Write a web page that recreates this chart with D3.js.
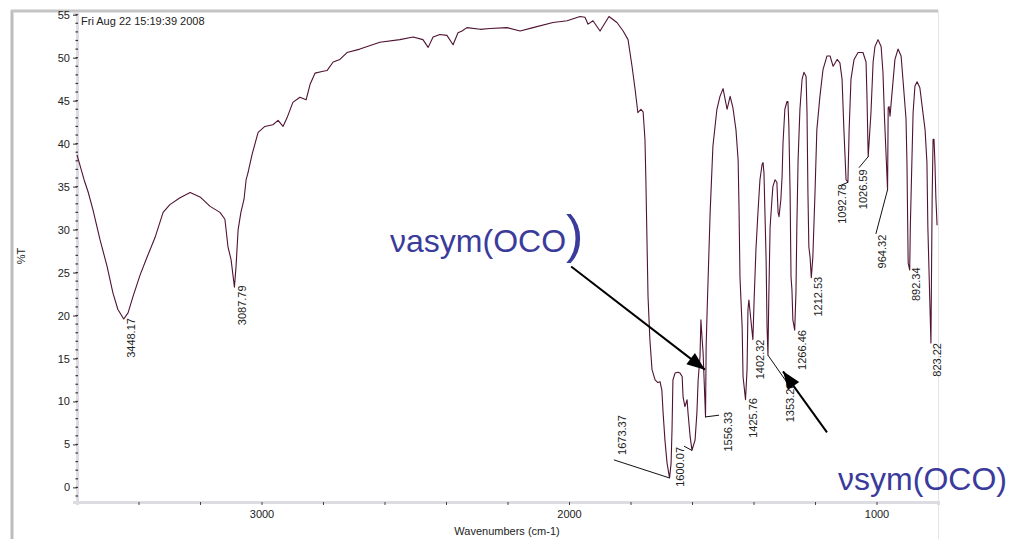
<!DOCTYPE html>
<html>
<head>
<meta charset="utf-8">
<script src="https://cdn.jsdelivr.net/npm/d3@7"></script>
<style>
  body { margin: 0; background: #fff; }
  svg text { font-family: "Liberation Sans", Arial, Helvetica, sans-serif; fill: #222; }
</style>
</head>
<body>
<div id="container"></div>
<script>
/* CONSTANTS AND GLOBALS */
const width = 1009,
  height = 539,
  margin = { top: 13, bottom: 37, left: 77, right: 71 }

/* DATA */
const wavenumbers = [3600,3577,3564,3548,3525,3502,3483,3467,3448,3434,3418,3395,3372,3346,3320,3298,3265,3232,3200,3167,3135,3119,3109,3099,3088,3083,3076,3067,3057,3050,3044,3031,3011,2989,2963,2946,2930,2917,2898,2875,2855,2842,2826,2803,2787,2767,2745,2722,2680,2615,2550,2507,2475,2458,2442,2420,2397,2377,2361,2348,2332,2289,2257,2202,2159,2117,2052,2006,1964,1948,1938,1922,1899,1870,1844,1824,1808,1795,1785,1776,1766,1759,1753,1750,1746,1743,1737,1730,1720,1711,1704,1698,1694,1688,1681,1673,1668,1665,1662,1655,1646,1639,1632,1629,1623,1616,1613,1606,1600,1597,1590,1584,1580,1574,1571,1567,1564,1556,1554,1551,1541,1532,1519,1509,1499,1486,1476,1467,1457,1450,1447,1444,1437,1434,1426,1421,1418,1415,1408,1402,1398,1392,1385,1379,1372,1369,1366,1359,1356,1353,1350,1346,1340,1337,1330,1324,1320,1317,1311,1307,1304,1298,1291,1288,1285,1281,1278,1275,1272,1266,1262,1259,1255,1249,1242,1236,1229,1226,1223,1220,1216,1212,1207,1200,1194,1184,1174,1161,1151,1141,1128,1119,1112,1106,1099,1093,1089,1083,1073,1060,1044,1034,1031,1027,1018,1011,1005,995,985,979,974,964,962,959,956,950,940,930,920,914,904,901,897,892,890,885,881,875,868,859,849,842,836,833,823,819,816,813,810,807,803]
const transmittance = [38.7,35.8,34.4,32.3,28.8,25.7,22.6,20.7,19.6,20.3,22.2,24.7,26.8,29.1,32.0,32.9,33.7,34.3,33.8,32.7,32.0,31.2,28.0,26.5,23.3,25.6,30.0,32.0,33.5,35.8,36.6,38.7,41.3,42.0,42.2,42.7,42.0,43.0,44.8,45.4,45.1,46.9,48.2,48.4,48.5,49.5,49.8,50.6,51.0,51.8,52.1,52.4,52.1,51.2,52.4,52.7,52.6,51.5,52.9,53.1,53.5,53.3,53.4,53.5,53.1,53.5,54.1,54.3,54.8,54.7,53.9,54.3,53.1,54.8,54.1,53.1,52.1,49.0,46.3,43.6,44.0,43.7,40.5,35.8,28.0,22.2,17.2,13.7,12.5,12.2,12.3,11.3,8.7,5.5,2.8,1.1,2.8,6.7,12.5,13.3,13.4,13.3,12.9,10.5,9.4,10.2,8.7,5.9,4.3,4.7,5.5,8.7,12.5,15.2,19.5,17.2,15.7,8.2,16.4,20.3,32.0,39.7,44.0,45.5,46.4,44.0,45.5,44.2,41.6,38.1,32.3,24.5,18.7,12.9,10.2,13.7,20.7,21.8,19.3,17.2,21.8,27.7,32.3,35.8,37.6,37.8,36.6,26.5,18.7,15.4,22.6,30.3,33.5,35.0,35.8,35.5,32.0,31.5,33.5,36.2,40.1,44.0,44.9,44.9,42.0,34.3,24.5,23.0,19.5,18.3,22.6,30.3,38.1,44.0,47.5,48.3,47.8,43.6,34.3,28.0,26.8,24.4,26.8,34.3,41.6,45.5,48.6,50.2,50.2,49.0,49.8,49.4,47.5,41.6,35.8,35.5,41.6,47.5,49.8,50.6,50.6,49.5,45.5,38.5,43.6,49.5,51.3,52.1,51.3,48.3,43.0,34.6,44.2,44.3,43.2,45.7,49.8,51.0,50.2,47.5,42.9,37.8,26.1,25.3,30.3,37.8,43.6,46.7,47.2,46.5,43.6,41.6,37.8,30.3,16.8,33.8,40.5,40.5,37.8,33.8,30.5]

// peak picks: label text, peak position, label anchor (end of rotated text), optional leader end
const peakNames = ["3448.17","3087.79","1673.37","1600.07","1556.33","1425.76","1402.32","1353.28","1266.46","1212.53","1092.78","1026.59","964.32","892.34","823.22"]
const peakWave = [3448.17,3087.79,1673.37,1600.07,1556.33,1425.76,1402.32,1353.28,1266.46,1212.53,1092.78,1026.59,964.32,892.34,823.22]
const peakT = [19.6,23.3,1.1,4.3,8.2,10.2,17.2,15.4,18.3,24.4,35.5,38.5,34.6,25.3,16.8]
const labelWave = [3411,3052,1815,1626,1470,1389,1366,1268,1229,1177,1099,1031,969,859,790]
const labelT = [19.7,23.5,8.4,4.7,8.8,10.4,17.2,12.2,18.3,24.5,35.3,37.0,29.4,25.6,16.8]
const leaderWave = [null,null,1854,1626,1512,null,null,1291,null,null,1119,1057,1002,null,null]
const leaderT = [null,null,3.2,4.8,8.4,null,null,12.2,null,null,35.1,37.2,29.5,null,null]

const xTicks = [3400,3200,3000,2800,2600,2400,2200,2000,1800,1600,1400,1200,1000]
const xTickLabels = [3000, 2000, 1000]
const yTicks = [0,5,10,15,20,25,30,35,40,45,50,55]
const yMinorTicks = d3.range(-1, 56)

// band assignments: text, text position, arrow tail and tip
const bandNames = ["asym", "sym"]
const bandTextWave = [2582, 1125]
const bandTextT = [27.4, -0.3]
const arrowTail = [[1993, 25.7], [1161, 6.4]]
const arrowTip = [[1558, 13.7], [1304, 13.5]]

const timestamp = "Fri Aug 22 15:19:39 2008"

const data = wavenumbers.map((w, i) => ({ w: w, t: transmittance[i] }))

// + SCALES
const xScale = d3.scaleLinear()
  .domain([3600, 800])
  .range([margin.left, width - margin.right])

const yScale = d3.scaleLinear()
  .domain([-1.7, 55.2])
  .range([height - margin.bottom, margin.top])

// CREATE SVG ELEMENT
const svg = d3.select("#container")
  .append("svg")
  .attr("width", width)
  .attr("height", height)

// window frame
svg.append("rect")
  .attr("x", 11.5).attr("y", 11).attr("width", 927).attr("height", 540)
  .attr("fill", "none").attr("stroke", "#e4e4e4").attr("stroke-width", 1)
svg.append("line")
  .attr("x1", 12).attr("x2", 12).attr("y1", 10).attr("y2", height)
  .attr("stroke", "#bdbdbd").attr("stroke-width", 3)
svg.append("line")
  .attr("x1", 11).attr("x2", 938).attr("y1", 11).attr("y2", 11)
  .attr("stroke", "#c4c4c4").attr("stroke-width", 3)

// BUILD AND CALL AXES
const xAxis = d3.axisBottom(xScale)
  .tickValues(xTicks)
  .tickSize(3)
  .tickPadding(5)
  .tickFormat(d => xTickLabels.includes(d) ? d : "")

const xAxisGroup = svg.append("g")
  .attr("class", "xAxis")
  .attr("transform", `translate(0, ${height - margin.bottom})`)
  .call(xAxis)
xAxisGroup.select(".domain").attr("stroke", "#dcdce2").attr("stroke-width", 3)
xAxisGroup.selectAll(".tick line").attr("stroke", "#444")
xAxisGroup.selectAll("text").style("font-size", "11px").attr("fill", "#222")

const yAxis = d3.axisLeft(yScale)
  .tickValues(yTicks)
  .tickSize(4)
  .tickPadding(3)

const yAxisGroup = svg.append("g")
  .attr("class", "yAxis")
  .attr("transform", `translate(${margin.left}, 0)`)
  .call(yAxis)
yAxisGroup.select(".domain").attr("stroke", "#dcdce2").attr("stroke-width", 3)
yAxisGroup.selectAll(".tick line").attr("stroke", "#333")
yAxisGroup.selectAll("text").style("font-size", "11px").attr("fill", "#222")

// minor ticks on the y axis
svg.selectAll(".yMinor")
  .data(yMinorTicks)
  .join("line")
  .attr("class", "yMinor")
  .attr("x1", margin.left - 1.5)
  .attr("x2", margin.left + 1)
  .attr("y1", d => yScale(d))
  .attr("y2", d => yScale(d))
  .attr("stroke", "#333")
  .attr("stroke-width", 1.2)

// LINE GENERATOR FUNCTION
const lineGen = d3.line()
  .x(d => xScale(d.w))
  .y(d => yScale(d.t))

svg.selectAll(".spectrum")
  .data([data])
  .join("path")
  .attr("class", "spectrum")
  .attr("fill", "none")
  .attr("stroke", "#4f1333")
  .attr("stroke-width", 1.1)
  .attr("stroke-linejoin", "round")
  .attr("d", d => lineGen(d))

// peak leaders and labels
const peaks = peakNames.map((name, i) => ({
  name, w: peakWave[i], t: peakT[i], lw: labelWave[i], lt: labelT[i], ew: leaderWave[i], et: leaderT[i]
}))

svg.selectAll(".leader")
  .data(peaks.filter(d => d.ew !== null))
  .join("line")
  .attr("class", "leader")
  .attr("x1", d => xScale(d.w))
  .attr("y1", d => yScale(d.t))
  .attr("x2", d => xScale(d.ew))
  .attr("y2", d => yScale(d.et))
  .attr("stroke", "#111")
  .attr("stroke-width", 1)

svg.selectAll(".peakLabel")
  .data(peaks)
  .join("text")
  .attr("class", "peakLabel")
  .attr("transform", d => `translate(${xScale(d.lw)}, ${yScale(d.lt)}) rotate(-90)`)
  .attr("text-anchor", "end")
  .style("font-size", "11px")
  .text(d => d.name)

// arrows for the carboxylate bands
const arrows = arrowTail.map((tail, i) => {
  const x1 = xScale(tail[0]), y1 = yScale(tail[1])
  const x2 = xScale(arrowTip[i][0]), y2 = yScale(arrowTip[i][1])
  return { x1, y1, x2, y2 }
})

svg.selectAll(".arrowLine")
  .data(arrows)
  .join("line")
  .attr("class", "arrowLine")
  .attr("x1", d => d.x1).attr("y1", d => d.y1)
  .attr("x2", d => d.x2).attr("y2", d => d.y2)
  .attr("stroke", "#000")
  .attr("stroke-width", 2)

svg.selectAll(".arrowHead")
  .data(arrows)
  .join("path")
  .attr("class", "arrowHead")
  .attr("fill", "#000")
  .attr("d", d => {
    const ang = Math.atan2(d.y2 - d.y1, d.x2 - d.x1)
    const len = 18, half = 7
    const bx = d.x2 - len * Math.cos(ang), by = d.y2 - len * Math.sin(ang)
    const px = -Math.sin(ang) * half, py = Math.cos(ang) * half
    return `M${d.x2},${d.y2}L${bx + px},${by + py}L${bx - px},${by - py}Z`
  })

// band assignment text
const bandText = svg.selectAll(".band")
  .data(bandNames)
  .join("text")
  .attr("class", "band")
  .attr("x", (d, i) => xScale(bandTextWave[i]))
  .attr("y", (d, i) => yScale(bandTextT[i]))
  .style("font-size", "32px")
  .style("fill", "#3b3b9c")

bandText.append("tspan").text(d => "\u03bd" + d + "(OCO")
bandText.append("tspan")
  .style("font-size", (d, i) => i === 0 ? "52px" : "32px")
  .text(")")

// timestamp
svg.append("text")
  .attr("x", margin.left + 4)
  .attr("y", 25)
  .style("font-size", "11px")
  .text(timestamp)

//Titles
svg.append("text")
  .attr("transform", "rotate(-90)")
  .attr("y", 25)
  .attr("x", -256)
  .style("text-anchor", "middle")
  .style("font-size", "11px")
  .text("%T")

svg.append("text")
  .attr("x", 507)
  .attr("y", 535)
  .style("text-anchor", "middle")
  .style("font-size", "11px")
  .text("Wavenumbers (cm-1)")
</script>
</body>
</html>
